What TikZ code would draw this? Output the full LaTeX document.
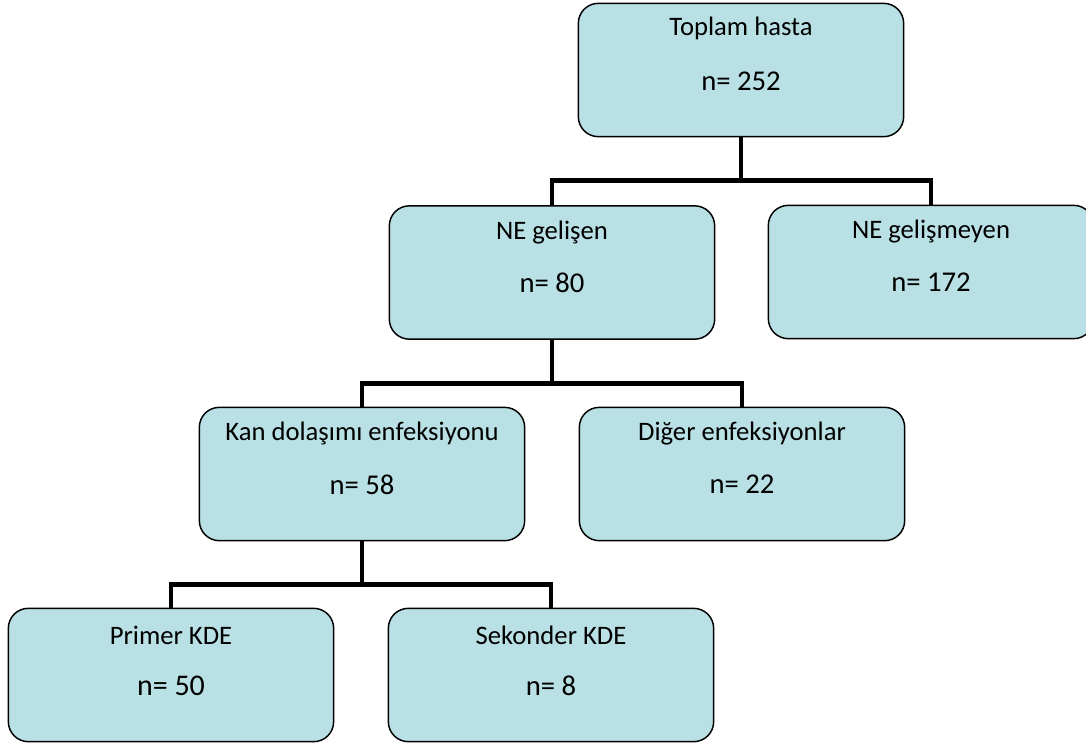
\documentclass[tikz,border=0pt]{standalone}
\usepackage{fontspec}
\setmainfont{Carlito}
\definecolor{boxfill}{RGB}{185,224,228}
\tikzset{
  box/.style={draw=black, line width=1.1pt, fill=boxfill, rounded corners=15pt,
    minimum width=244pt, minimum height=100pt, inner sep=0pt},
  txt/.style={font=\fontsize{20}{24}\selectfont, inner sep=0pt, anchor=center},
  num/.style={font=\fontsize{21.5}{25}\selectfont, inner sep=0pt, anchor=center},
  conn/.style={draw=black, line width=3.7pt, line join=miter}
}
\begin{document}
\begin{tikzpicture}[x=0.75pt, y=-0.75pt]
\useasboundingbox (0,0) rectangle (1086,747);
% boxes
\node[box] (top) at (741,70) {};
\node[box] (gel) at (552,272.5) {};
\node[box] (gelme) at (931,272) {};
\node[box] (kan) at (362,474) {};
\node[box] (diger) at (742,474) {};
\node[box] (primer) at (171,675) {};
\node[box] (sek) at (551,675) {};
% texts
\node[txt] (topt) at ([yshift=-19.5pt]top.north) {Toplam hasta};
\node[num] (topn) at ([yshift=-59pt]top.north) {n= 252};
\node[txt] (gelt) at ([yshift=-20.5pt]gel.north) {NE gelişen};
\node[num] (geln) at ([yshift=-58.5pt]gel.north) {n= 80};
\node[txt] (gelmet) at ([yshift=-20.5pt]gelme.north) {NE gelişmeyen};
\node[num] (gelmen) at ([yshift=-58.5pt]gelme.north) {n= 172};
\node[txt] (kant) at ([yshift=-20.5pt]kan.north) {Kan dolaşımı enfeksiyonu};
\node[num] (kann) at ([yshift=-58.5pt]kan.north) {n= 58};
\node[txt] (digert) at ([yshift=-20.5pt]diger.north) {Diğer enfeksiyonlar};
\node[num] (digern) at ([yshift=-58.5pt]diger.north) {n= 22};
\node[txt] (primert) at ([yshift=-20.5pt]primer.north) {Primer KDE};
\node[num, font=\fontsize{22.5}{26}\selectfont] (primern) at ([yshift=-58.5pt]primer.north) {n= 50};
\node[txt] (sekt) at ([yshift=-20.5pt]sek.north) {Sekonder KDE};
\node[num] (sekn) at ([yshift=-58.5pt]sek.north) {n= 8};
% connectors
\draw[conn] (top.south) -- ++(0,44);
\draw[conn] (gel.north) -- ++(0,-25) -| (gelme.north);
\draw[conn] (gel.south) -- ++(0,45);
\draw[conn] (kan.north) -- ++(0,-23) -| (diger.north);
\draw[conn] (kan.south) -- ++(0,44);
\draw[conn] (primer.north) -- ++(0,-23) -| (sek.north);
\end{tikzpicture}
\end{document}
